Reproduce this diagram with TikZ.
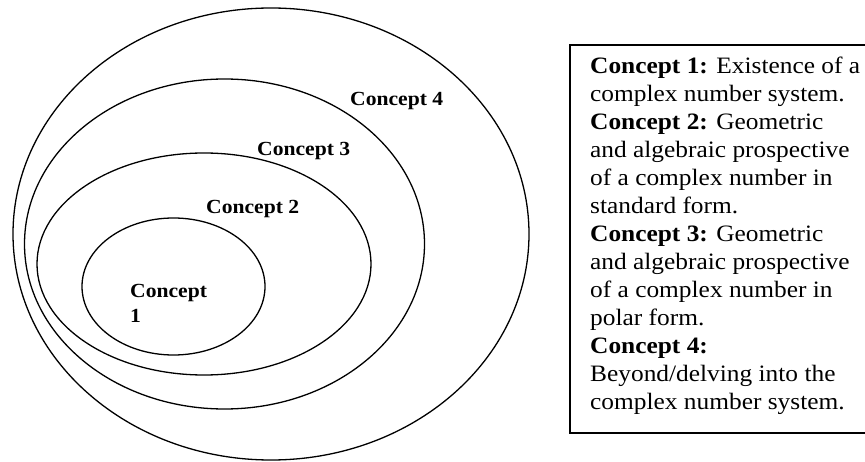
\documentclass[tikz,border=0pt]{standalone}
\usepackage{fontspec}
\setmainfont{Liberation Serif}[FakeStretch=1.08]
\tikzset{
    concept-ring/.style = {draw=black, line width=1.3pt},
    concept-label/.style = {anchor=west, inner sep=0pt, align=left, font=\fontsize{20}{25}\selectfont\bfseries},
    legend-box/.style = {draw=black, line width=1.4pt},
    legend-text/.style = {anchor=north west, inner sep=0pt, align=left, font=\fontsize{23.5}{28}\selectfont},
}
\begin{document}
\begin{tikzpicture}[x=1pt, y=-1pt]
\useasboundingbox (0,0) rectangle (865,462);
% nested rings
\draw[concept-ring] (271,234) ellipse [x radius=258, y radius=226];
\draw[concept-ring] (224.5,244) ellipse [x radius=200, y radius=165];
\draw[concept-ring] (204,264) ellipse [x radius=167, y radius=111];
\draw[concept-ring] (173.5,286.5) ellipse [x radius=91.5, y radius=68.5];
\node[concept-label] (c4) at (350,101) {Concept 4};
\node[concept-label] (c3) at (257,151) {Concept 3};
\node[concept-label] (c2) at (206,209) {Concept 2};
\node[concept-label] (c1) at (130,303.5) {Concept\\1};
% legend
\draw[legend-box] (570,45) rectangle (868,433);
\node[legend-text] (legend) at (590,57) {\textbf{Concept 1:} Existence of a\\
complex number system.\\
\textbf{Concept 2:} Geometric\\
and algebraic prospective\\
of a complex number in\\
standard form.\\
\textbf{Concept 3:} Geometric\\
and algebraic prospective\\
of a complex number in\\
polar form.\\
\textbf{Concept 4:}\\
Beyond/delving into the\\
complex number system.};
\end{tikzpicture}
\end{document}
